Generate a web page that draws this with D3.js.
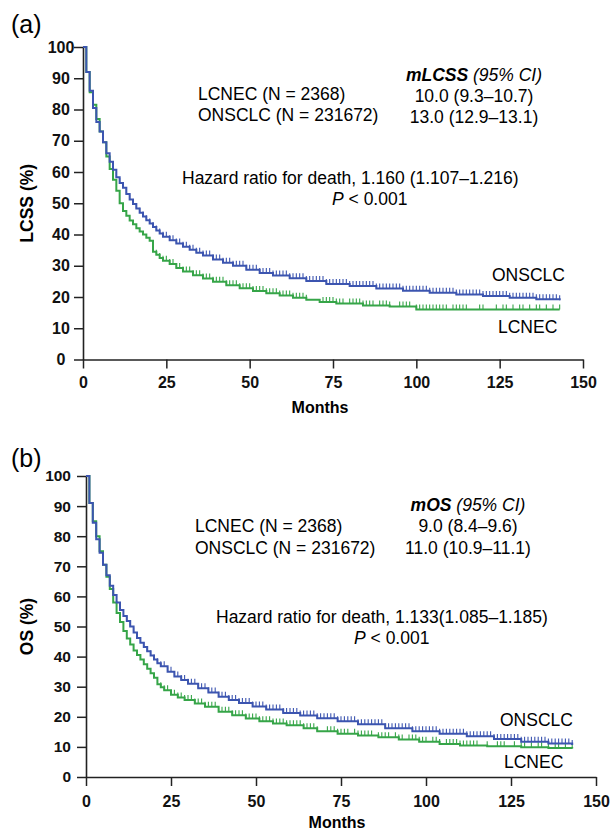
<!DOCTYPE html>
<html>
<head>
<meta charset="utf-8">
<script src="https://cdn.jsdelivr.net/npm/d3@7"></script>
<style>
  body { margin: 0; background: #fff; }
  svg { display: block; font-family: "Liberation Sans", Arial, sans-serif; }
</style>
</head>
<body>
<svg id="chart" width="615" height="830"></svg>
<script>
// ---- data ----
const monthTicks = [0, 25, 50, 75, 100, 125, 150];
const pctTicks   = [0, 10, 20, 30, 40, 50, 60, 70, 80, 90, 100];

// (a) lung-cancer-specific survival
const lcssOnsclcTime = [0,1,2,3,4,5,6,7,8,9,10,11,12,13,14,15,16,17,18,19,20,21,22,23,24,26,28,30,32,34,36,39,42,45,49,53,57,62,67,73,80,88,96,104,112,120,128,136,143];
const lcssOnsclcSurv = [100,92,86,80.5,76,73,69.5,66,63.3,60.7,58.3,56.5,55,53,51.2,49.8,48.3,47,45.8,44.6,43.5,42.4,41.3,40.3,39.3,38.2,37.1,36.1,35.1,34.2,33.3,32,31,30,28.7,27.7,26.9,26,25.1,24.2,23.5,22.7,22,21.4,20.8,20.3,19.8,19.3,19];
const lcssLcnecTime  = [0,1,2,3,4,5,6,7,8,9,10,11,12,13,14,15,16,17,18,19,20,21,22,23,24,26,28,30,33,36,39,43,47,51,55,59,63,67,71,76,84,92,100,143];
const lcssLcnecSurv  = [100,92,85.5,81.5,77,73,69.5,65,61,57.5,54,50,47.5,46,44.5,43.3,42,41,40,39,38,34.5,33.5,32.5,31.6,30.6,29.3,28.2,27,25.9,24.9,23.8,22.8,21.9,21.2,20.5,19.8,19.1,18.4,17.9,17.3,17,16,16];
const lcssOnsclcCensor = [
  10,11,12,13,14,15,16,17,18,19,20,21,22,23,24,25,26,27,28,29,30,31,32,33,34,35,36,37,38,39,40,
  41,42,43,44,45,46,47,48,49,50,51,52,53,54,55,56,57,58,59,60,61,62,63,64,65,66,67,68,69,70,
  71,72,73,74,75,76,77,78,79,80,81,82,83,84,85,86,87,88,89,90,91,92,93,94,95,96,97,98,99,100,
  101,102,103,104,105,106,107,108,109,110,111,112,113,114,115,116,117,118,119,120,121,122,123,124,125,
  126,127,128,129,130,131,132,133,134,135,136,137,138,139,140,141,142,143];
const lcssLcnecCensor = [
  22,23,24,25,26,27,28,29,30,31,32,33,34,35,36,37,38,39,40,41,42,43,44,45,46,47,48,49,50,
  51,52,53,54,55,56,57,58,59,60,61,62,63,64,65,66,67,72,73,74,75,76,77,78,80,81,82,83,84,85,86,87,
  89,90,91,92,95,96,97,98,100,101,102,103,104,105,106,107,108,109,111,112,113,114,115,119,120,
  124,126,127,129,131,132,134,136,137,139,141,143];

// (b) overall survival
const osOnsclcTime = [0,1,2,3,4,5,6,7,8,9,10,11,12,13,14,15,16,17,18,19,20,21,22,24,26,28,30,33,36,39,42,45,49,53,58,63,68,74,80,88,96,104,112,120,128,136,143];
const osOnsclcSurv = [100,91,84.5,79,74.5,70.5,67,63.5,60.5,58,55.5,53.5,51.8,50,48,46.2,44.6,43.2,41.8,40.4,39,37.8,36.8,35,33.4,32.2,31,29.5,28.1,26.7,25.6,24.6,23.4,22.4,21.3,20.4,19.5,18.5,17.5,16.2,15.2,14.4,13.5,12.6,11.7,11.1,10.6];
const osLcnecTime  = [0,1,2,3,4,5,6,7,8,9,10,11,12,13,14,15,16,17,18,19,20,21,22,23,25,27,29,32,35,39,43,47,51,55,59,64,68,74,80,86,92,98,104,110,118,128,136,143];
const osLcnecSurv  = [100,91,85,80,75,70.5,66.5,62.5,58,54.5,51.5,48.5,46,44,42,40.5,39,37.5,36,34.5,33,30.8,29.8,28.8,27.3,26.4,25.6,24.4,23.3,21.7,20.5,19.4,18.5,17.8,17.2,16.2,15.2,14.4,13.8,13.2,12.5,11.7,11,10.5,10.2,9.9,9.6,9.5];
const osOnsclcCensor = [
  12,13,14,15,16,17,18,19,20,21,22,23,24,25,26,27,28,29,30,31,32,33,34,35,36,37,38,39,40,
  41,42,43,44,45,46,47,48,49,50,51,52,53,54,55,56,57,58,59,60,61,62,63,64,65,66,67,68,69,70,
  71,72,73,74,75,76,77,78,79,80,81,82,83,84,85,86,87,88,89,90,91,92,93,94,95,96,97,98,99,100,
  101,102,103,104,105,106,107,108,109,110,111,112,113,114,115,116,117,118,119,120,121,122,123,124,125,
  126,127,128,129,130,131,132,133,134,135,136,137,138,139,140,141,142,143];
const osLcnecCensor = [
  22,23,24,25,26,27,28,29,30,31,32,33,34,35,36,37,38,39,40,41,42,43,44,45,46,47,48,49,50,
  51,52,53,54,55,56,57,58,59,60,61,62,63,64,65,66,67,68,71,72,73,74,75,76,77,79,80,81,82,83,84,
  86,87,88,89,91,92,93,95,96,97,98,99,100,102,103,104,106,107,108,109,110,111,112,113,114,115,
  118,121,122,123,126,128,129,131,133,134,136,138,139,141,143];

const BLUE  = '#3c55b0';
const GREEN = '#36a548';
const FONT_SIZE = 17.5;

const svg = d3.select('#chart');

/**
 * Draws one Kaplan-Meier panel: axes, two step curves with censor ticks, and annotations.
 */
function drawPanel (cfg) {
    const x = d3.scaleLinear().domain([0, 150]).range(cfg.xRange);
    const y = d3.scaleLinear().domain([0, 100]).range(cfg.yRange);
    const g = svg.append('g');

    // y axis
    const yAxis = g.append('g')
        .attr('transform', `translate(${cfg.xRange[0]},0)`)
        .call(d3.axisLeft(y).tickValues(pctTicks).tickSize(9).tickSizeOuter(0));
    yAxis.selectAll('text')
        .attr('x', cfg.yLabelX)
        .attr('text-anchor', cfg.yLabelAnchor)
        .style('font-size', cfg.yLabelSize + 'px')
        .style('font-weight', 'bold')
        .attr('fill', '#111');

    // x axis
    const xAxis = g.append('g')
        .attr('transform', `translate(0,${cfg.yRange[0]})`)
        .call(d3.axisBottom(x).tickValues(monthTicks).tickSize(9).tickSizeOuter(0));
    xAxis.selectAll('text')
        .attr('y', cfg.xLabelY)
        .attr('dy', null)
        .style('font-size', '16px')
        .style('font-weight', 'bold')
        .attr('fill', '#111');

    g.selectAll('.domain, .tick line')
        .attr('stroke', '#222')
        .attr('stroke-width', 1.6);
    g.selectAll('.tick line').attr('stroke-width', 1.5);

    // curves: green underneath, blue on top
    const series = [
        { time: cfg.lcnecTime,  surv: cfg.lcnecSurv,  censor: cfg.lcnecCensor,  color: GREEN },
        { time: cfg.onsclcTime, surv: cfg.onsclcSurv, censor: cfg.onsclcCensor, color: BLUE }
    ];

    const line = d3.line()
        .x(d => x(d[0]))
        .y(d => y(d[1]))
        .curve(d3.curveStepAfter);

    series.forEach(s => {
        const pts = s.time.map((t, i) => [t, s.surv[i]]);
        const at = t => s.surv[d3.bisectRight(s.time, t) - 1];

        g.append('path')
            .datum(pts)
            .attr('d', line)
            .attr('fill', 'none')
            .attr('stroke', s.color)
            .attr('stroke-width', 2);

        // censor marks sit on the step value at that month
        g.append('g')
            .selectAll('line')
            .data(s.censor)
            .join('line')
            .attr('x1', t => x(t))
            .attr('x2', t => x(t))
            .attr('y1', t => y(at(t)))
            .attr('y2', t => y(at(t)) - 5)
            .attr('stroke', s.color)
            .attr('stroke-width', 1.1);
    });

    // panel letter
    svg.append('text')
        .attr('x', 11).attr('y', cfg.letterY)
        .style('font-size', '25px')
        .text(cfg.letter);

    // axis titles
    svg.append('text')
        .attr('transform', `translate(33,${(cfg.yRange[0] + cfg.yRange[1]) / 2}) rotate(-90)`)
        .attr('text-anchor', 'middle')
        .style('font-size', '17.5px')
        .style('font-weight', 'bold')
        .text(cfg.yTitle);

    svg.append('text')
        .attr('x', cfg.monthsX).attr('y', cfg.monthsY)
        .attr('text-anchor', 'middle')
        .style('font-size', '16px')
        .style('font-weight', 'bold')
        .text('Months');

    // annotations
    const txt = (px, py, anchor) => svg.append('text')
        .attr('x', px).attr('y', py)
        .attr('text-anchor', anchor)
        .style('font-size', FONT_SIZE + 'px');

    const head = txt(cfg.medianX, cfg.headY, 'middle');
    head.append('tspan').style('font-weight', 'bold').style('font-style', 'italic').text(cfg.medianName);
    head.append('tspan').style('font-style', 'italic').text(' (95% CI)');

    txt(cfg.nX, cfg.row1Y, 'start').text('LCNEC (N = 2368)');
    txt(cfg.nX, cfg.row2Y, 'start').text('ONSCLC (N = 231672)');
    txt(cfg.medianX, cfg.row1Y + cfg.medianDy, 'middle').text(cfg.medianLcnec);
    txt(cfg.medianX, cfg.row2Y + cfg.medianDy, 'middle').text(cfg.medianOnsclc);

    txt(cfg.hrX, cfg.hrY, 'start').text(cfg.hrText);
    const p = txt(cfg.pX, cfg.pY, 'start');
    p.append('tspan').style('font-style', 'italic').text('P');
    p.append('tspan').text(' < 0.001');

    txt(cfg.onsLabel[0], cfg.onsLabel[1], 'start').text('ONSCLC');
    txt(cfg.lcLabel[0], cfg.lcLabel[1], 'start').text('LCNEC');
}

drawPanel({
    letter: '(a)', letterY: 33,
    xRange: [83, 583], yRange: [359.5, 47],
    yLabelX: -22, yLabelAnchor: 'middle', yLabelSize: 16, xLabelY: 28,
    yTitle: 'LCSS (%)', monthsX: 320, monthsY: 413,
    onsclcTime: lcssOnsclcTime, onsclcSurv: lcssOnsclcSurv, onsclcCensor: lcssOnsclcCensor,
    lcnecTime: lcssLcnecTime, lcnecSurv: lcssLcnecSurv, lcnecCensor: lcssLcnecCensor,
    medianName: 'mLCSS', medianX: 474, headY: 81, medianDy: 2,
    medianLcnec: '10.0 (9.3–10.7)', medianOnsclc: '13.0 (12.9–13.1)',
    nX: 198, row1Y: 99.5, row2Y: 121,
    hrX: 182, hrY: 183.5, hrText: 'Hazard ratio for death, 1.160 (1.107–1.216)',
    pX: 332, pY: 205,
    onsLabel: [492, 281], lcLabel: [498, 333]
});

drawPanel({
    letter: '(b)', letterY: 467,
    xRange: [86, 596], yRange: [777, 476],
    yLabelX: -15, yLabelAnchor: 'end', yLabelSize: 15.5, xLabelY: 29.5,
    yTitle: 'OS (%)', monthsX: 337, monthsY: 828,
    onsclcTime: osOnsclcTime, onsclcSurv: osOnsclcSurv, onsclcCensor: osOnsclcCensor,
    lcnecTime: osLcnecTime, lcnecSurv: osLcnecSurv, lcnecCensor: osLcnecCensor,
    medianName: 'mOS', medianX: 468, headY: 511, medianDy: 0,
    medianLcnec: '9.0 (8.4–9.6)', medianOnsclc: '11.0 (10.9–11.1)',
    nX: 195, row1Y: 532, row2Y: 553.5,
    hrX: 216, hrY: 623, hrText: 'Hazard ratio for death, 1.133(1.085–1.185)',
    pX: 354, pY: 643.5,
    onsLabel: [500, 726], lcLabel: [504, 768]
});
</script>
</body>
</html>
